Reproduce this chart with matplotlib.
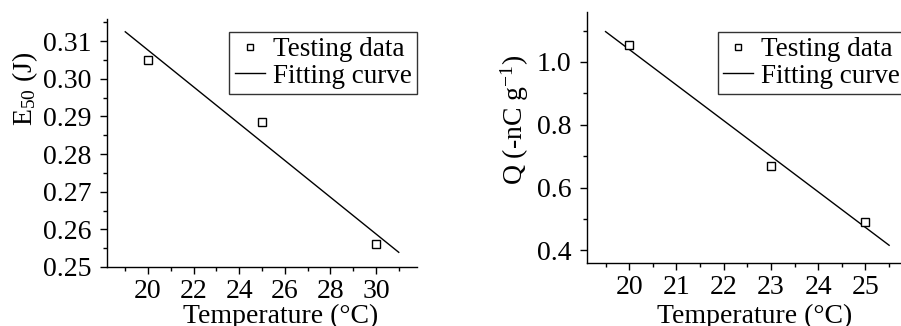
import matplotlib.pyplot as plt
from matplotlib.ticker import MultipleLocator

plt.rcParams['font.family'] = ['Liberation Serif', 'DejaVu Serif']
plt.rcParams['mathtext.fontset'] = 'custom'
plt.rcParams['mathtext.rm'] = 'Liberation Serif'
plt.rcParams['mathtext.it'] = 'Liberation Serif:italic'

# left panel: E50 vs temperature
e50_temp = [20, 25, 30]
e50_vals = [0.305, 0.2885, 0.2562]
e50_fit_x = [19, 31]
e50_fit_y = [0.3125, 0.2539]

# right panel: charge vs temperature
q_temp = [20, 23, 25]
q_vals = [1.054, 0.670, 0.491]
q_fit_x = [19.5, 25.5]
q_fit_y = [1.0966, 0.416]

fig = plt.figure(figsize=(9.01, 3.26), dpi=100)
ax1 = fig.add_axes([0.1188, 0.181, 0.344, 0.7607])
ax2 = fig.add_axes([0.6511, 0.1942, 0.3567, 0.7699])


def style(ax):
    for s in ['top', 'right']:
        ax.spines[s].set_visible(False)
    for s in ['left', 'bottom']:
        ax.spines[s].set_linewidth(1.0)
    ax.tick_params(which='major', direction='out', length=5, width=1,
                   labelsize=20, pad=4)
    ax.tick_params(which='minor', direction='out', length=3, width=1)
    ax.tick_params(axis='y', which='major', pad=6)


ax1.plot(e50_fit_x, e50_fit_y, color='black', lw=1, label='Fitting curve')
ax1.plot(e50_temp, e50_vals, ls='none', marker='s', ms=6, mfc='white',
         mec='black', mew=1, label='Testing data')
ax1.set_xlim(18.2, 31.8)
ax1.set_ylim(0.25, 0.3159)
ax1.xaxis.set_major_locator(MultipleLocator(2))
ax1.xaxis.set_minor_locator(MultipleLocator(1))
ax1.yaxis.set_major_locator(MultipleLocator(0.01))
ax1.yaxis.set_minor_locator(MultipleLocator(0.005))
ax1.yaxis.set_major_formatter(plt.FormatStrFormatter('%.2f'))
style(ax1)
ax1.set_xlabel('Temperature (°C)', fontsize=20, va='center')
ax1.xaxis.set_label_coords(0.561, -0.2)
ax1.set_ylabel(r'E$_{\mathregular{50}}$ (J)', fontsize=20, va='center')
ax1.yaxis.set_label_coords(-0.265, 0.72)
h, l = ax1.get_legend_handles_labels()
leg1 = ax1.legend(h[::-1], l[::-1], loc='upper right', bbox_to_anchor=(1.0, 0.948),
                  borderaxespad=0, fontsize=19.5, fancybox=False, framealpha=1,
                  edgecolor='#333333', handlelength=1.1, handletextpad=0.3,
                  labelspacing=0.05, borderpad=0.2, markerscale=0.7)
leg1.get_frame().set_linewidth(1.0)

ax2.plot(q_fit_x, q_fit_y, color='black', lw=1, label='Fitting curve')
ax2.plot(q_temp, q_vals, ls='none', marker='s', ms=6, mfc='white',
         mec='black', mew=1, label='Testing data')
ax2.set_xlim(19.1, 25.9)
ax2.set_ylim(0.3605, 1.16)
ax2.xaxis.set_major_locator(MultipleLocator(1))
ax2.xaxis.set_minor_locator(MultipleLocator(0.5))
ax2.yaxis.set_major_locator(MultipleLocator(0.2))
ax2.yaxis.set_minor_locator(MultipleLocator(0.1))
ax2.yaxis.set_major_formatter(plt.FormatStrFormatter('%.1f'))
style(ax2)
ax2.set_xlabel('Temperature (°C)', fontsize=20, va='center')
ax2.xaxis.set_label_coords(0.524, -0.214)
ax2.set_ylabel(r'Q (-nC g$^{\mathregular{-1}}$)', fontsize=20, va='center')
ax2.yaxis.set_label_coords(-0.223, 0.57)
h, l = ax2.get_legend_handles_labels()
leg2 = ax2.legend(h[::-1], l[::-1], loc='upper left', bbox_to_anchor=(0.408, 0.919),
                  borderaxespad=0, fontsize=19.5, fancybox=False, framealpha=1,
                  edgecolor='#333333', handlelength=1.1, handletextpad=0.3,
                  labelspacing=0.05, borderpad=0.2, markerscale=0.7)
leg2.get_frame().set_linewidth(1.0)

fig.savefig('out.png', dpi=100)
